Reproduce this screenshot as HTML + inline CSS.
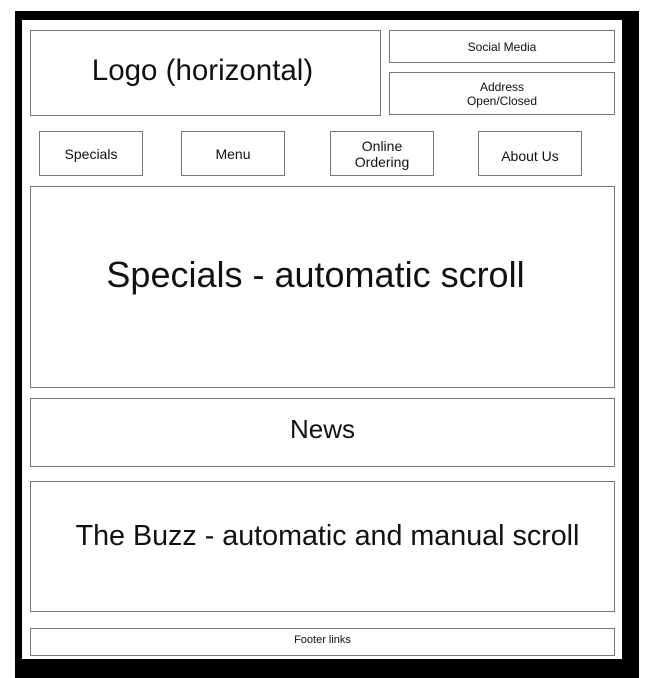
<!DOCTYPE html>
<html><head><style>
body{margin:0;width:650px;height:678px;background:#fff;position:relative;overflow:hidden;font-family:"Liberation Sans",sans-serif;color:#111}
.frame{position:absolute;left:15px;top:11px;width:624px;height:667px;background:#000}
.inner{position:absolute;left:22px;top:20px;width:600px;height:639px;background:#fff}
.b{position:absolute;border:1px solid #777;box-sizing:border-box;display:flex;align-items:center;justify-content:center;text-align:center;background:#fff}
</style></head><body>
<div class="frame"></div><div class="inner"></div>
<div class="b" style="left:30px;top:30px;width:351px;height:86px;font-size:29.5px;padding-right:6px;padding-bottom:4px">Logo (horizontal)</div>
<div class="b" style="left:389px;top:30px;width:226px;height:33px;font-size:12px">Social Media</div>
<div class="b" style="left:389px;top:72px;width:226px;height:43px;font-size:12px;line-height:14px">Address<br>Open/Closed</div>
<div class="b" style="left:39px;top:131px;width:104px;height:45px;font-size:14px">Specials</div>
<div class="b" style="left:181px;top:131px;width:104px;height:45px;font-size:14px">Menu</div>
<div class="b" style="left:330px;top:131px;width:104px;height:45px;font-size:14px;line-height:16px">Online<br>Ordering</div>
<div class="b" style="left:478px;top:131px;width:104px;height:45px;font-size:14px;padding-top:4px">About Us</div>
<div class="b" style="left:30px;top:186px;width:585px;height:202px;font-size:36px;padding-bottom:24px;padding-right:14px">Specials - automatic scroll</div>
<div class="b" style="left:30px;top:398px;width:585px;height:69px;font-size:26px;padding-bottom:6px">News</div>
<div class="b" style="left:30px;top:481px;width:585px;height:131px;font-size:28.7px;padding-bottom:20px;padding-left:10px">The Buzz - automatic and manual scroll</div>
<div class="b" style="left:30px;top:628px;width:585px;height:28px;font-size:11px;padding-bottom:4px">Footer links</div>
</body></html>
